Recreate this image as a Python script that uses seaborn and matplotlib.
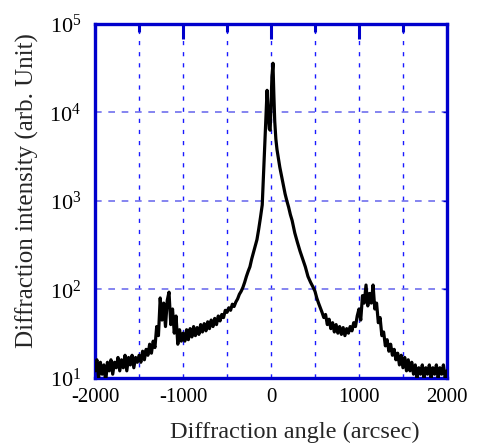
"""
plot.py — X-ray rocking curve (log scale) redrawn with seaborn.
"""

import matplotlib
matplotlib.use("Agg")
import matplotlib.pyplot as plt
import matplotlib.ticker as mticker
import numpy as np
import pandas as pd
import seaborn as sns

# ── Data ─────────────────────────────────────────────────────────────────────
angle = [
    -2000, -1980, -1960, -1940, -1920, -1900, -1880, -1860, -1840, -1820,
    -1800, -1780, -1760, -1740, -1720, -1700, -1680, -1660, -1640, -1620,
    -1600, -1580, -1560, -1540, -1520, -1500, -1480, -1460, -1440, -1420,
    -1400, -1380, -1360, -1340, -1320, -1300, -1280, -1260, -1240, -1220,
    -1200, -1180, -1160, -1140, -1120, -1100, -1080, -1060, -1040, -1020,
    -1000, -980, -960, -940, -920, -900, -880, -860, -840, -820,
    -800, -780, -760, -740, -720, -700, -680, -660, -640, -620,
    -600, -580, -560, -540, -520, -500, -480, -460, -440, -420,
    -400, -380, -360, -340, -320, -300, -280, -260, -240, -220,
    -200, -180, -160, -140, -120, -100, -85, -70, -58, -45,
    -32, -20, -10, 0, 10, 22, 32, 42, 55, 68,
    85, 100, 120, 140, 160, 180, 200, 220, 240, 270,
    300, 330, 360, 390, 420, 450, 480, 500, 520, 540,
    560, 580, 600, 620, 640, 660, 680, 700, 720, 740,
    760, 780, 800, 820, 840, 860, 880, 900, 920, 940,
    960, 980, 1000, 1020, 1040, 1060, 1080, 1100, 1120, 1140,
    1160, 1180, 1200, 1220, 1240, 1260, 1280, 1300, 1320, 1340,
    1360, 1380, 1400, 1420, 1440, 1460, 1480, 1500, 1520, 1540,
    1560, 1580, 1600, 1620, 1640, 1660, 1680, 1700, 1720, 1740,
    1760, 1780, 1800, 1820, 1840, 1860, 1880, 1900, 1920, 1940,
    1960, 1980, 2000,
]
intensity = [
    12, 16, 10, 15, 11, 14, 9, 15, 12, 16,
    11, 15, 13, 17, 12, 16, 13, 18, 12, 17,
    14, 18, 13, 17, 15, 18, 15, 20, 16, 21,
    18, 24, 19, 26, 22, 38, 30, 80, 45, 70,
    38, 75, 93, 40, 60, 32, 50, 24, 35, 26,
    32, 26, 35, 27, 36, 29, 38, 30, 37, 31,
    40, 33, 41, 34, 43, 36, 45, 38, 47, 40,
    50, 44, 52, 48, 58, 55, 62, 58, 68, 64,
    72, 78, 88, 95, 105, 120, 140, 160, 180, 220,
    260, 310, 365, 480, 650, 900, 2000, 4500, 9000, 17800,
    10000, 6500, 6300, 12000, 25000, 36000, 16000, 8000, 5000, 3800,
    3000, 2400, 1900, 1500, 1200, 1000, 850, 700, 600, 435,
    340, 270, 220, 180, 140, 120, 105, 95, 80, 70,
    62, 55, 48, 52, 40, 46, 36, 42, 33, 40,
    32, 38, 31, 37, 30, 36, 32, 38, 34, 42,
    38, 50, 60, 45, 85, 70, 112, 65, 90, 70,
    112, 60, 70, 42, 48, 30, 33, 23, 27, 20,
    24, 18, 21, 16, 19, 14, 18, 13, 17, 12,
    16, 12, 15, 11, 14, 10, 13, 11, 14, 10,
    13, 11, 14, 10, 13, 11, 14, 10, 13, 11,
    14, 10, 12,
]

x_ticks = [-2000, -1000, 0, 1000, 2000]
x_minor = [-1500, -500, 500, 1500]
y_ticks = [1e1, 1e2, 1e3, 1e4, 1e5]

BLUE = "#0000cc"

# ── Style ────────────────────────────────────────────────────────────────────
sns.set_style("white")
plt.rcParams["font.family"] = ["Liberation Serif", "DejaVu Serif"]
plt.rcParams["mathtext.fontset"] = "custom"
plt.rcParams["mathtext.rm"] = "Liberation Serif"
plt.rcParams["mathtext.it"] = "Liberation Serif:italic"
plt.rcParams["axes.unicode_minus"] = False

df = pd.DataFrame({"angle": angle, "intensity": intensity})

fig = plt.figure(figsize=(4.78, 4.44), dpi=100)
ax = fig.add_axes([0.199, 0.149, 0.736, 0.797])

sns.lineplot(data=df, x="angle", y="intensity", color="black",
             linewidth=2.3, ax=ax, zorder=3)

ax.set_yscale("log")
ax.set_xlim(-2000, 2000)
ax.set_ylim(1e1, 1e5)

# ── Ticks and grid ───────────────────────────────────────────────────────────
ax.set_xticks(x_ticks)
ax.xaxis.set_minor_locator(mticker.FixedLocator(x_minor))
ax.set_yticks(y_ticks)
ax.yaxis.set_minor_locator(mticker.NullLocator())
ax.yaxis.set_major_formatter(
    mticker.FuncFormatter(lambda v, _: rf"$10^{{{int(round(np.log10(v)))}}}$"))

ax.tick_params(axis="both", which="both", direction="in", color=BLUE,
               top=True, right=True, labelcolor="black")
ax.tick_params(axis="x", which="major", length=11, width=2.2, labelsize=15, pad=7)
ax.tick_params(axis="x", which="minor", length=6, width=2.2)
ax.tick_params(axis="y", which="major", length=3, width=1, labelsize=16, pad=10)

ax.grid(True, axis="x", which="both", color="#1a1aff", linestyle=(0, (3, 5)),
        linewidth=1.0)
ax.grid(True, axis="y", which="major", color="#7070ee", linestyle=(0, (4, 4)),
        linewidth=1.2)

for side in ax.spines.values():
    side.set_color(BLUE)
    side.set_linewidth(2.4)
    side.set_visible(True)

ax.set_xlabel("Diffraction angle (arcsec)", fontsize=17.5)
ax.xaxis.set_label_coords(0.568, -0.125)
ax.set_ylabel("Diffraction intensity (arb. Unit)", fontsize=18)
ax.yaxis.set_label_coords(-0.16, 0.528)

fig.savefig("out.png", dpi=100)
